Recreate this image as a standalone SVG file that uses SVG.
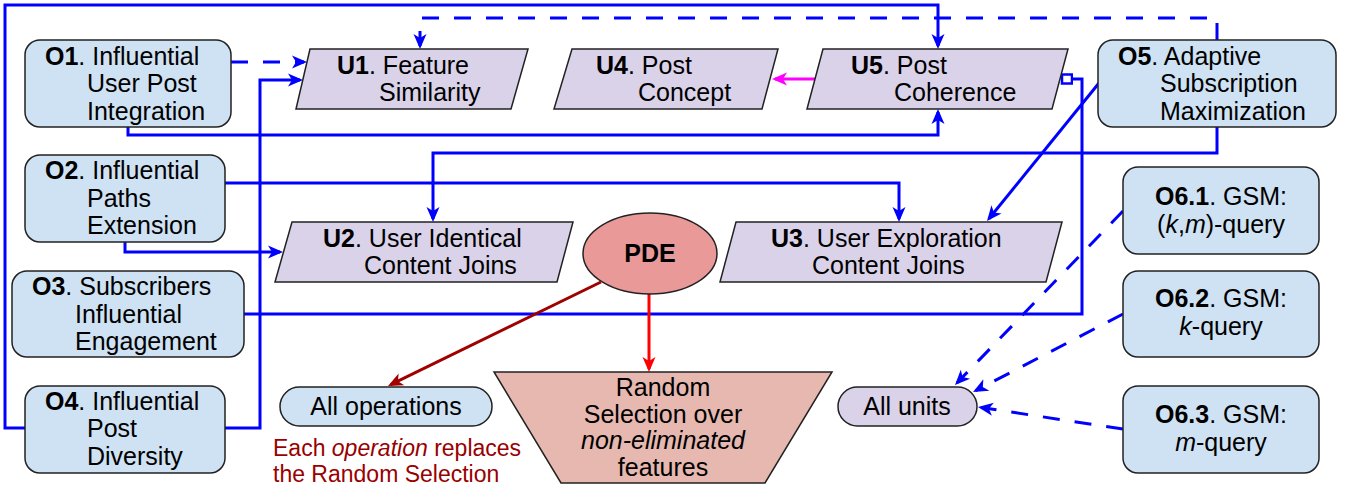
<svg xmlns="http://www.w3.org/2000/svg" width="1355" height="491" viewBox="0 0 1355 491">
<style>
text{font-family:"Liberation Sans",Arial,sans-serif;font-size:25px;fill:#000}
.b{font-weight:bold}
.i{font-style:italic}
.op{fill:#cfe2f3;stroke:#222;stroke-width:1.5}
.un{fill:#d9d2e9;stroke:#222;stroke-width:1.5}
.c{fill:none;stroke:#0000ff;stroke-width:3}
.d{stroke-dasharray:17 15}
.red{fill:#990000;font-size:23px}
</style>
<defs>
<marker id="ab" viewBox="-14 -8 18 16" refX="0" refY="0" markerWidth="18" markerHeight="16" markerUnits="userSpaceOnUse" orient="auto"><path d="M3,0 L-12,-6.5 L-8,0 L-12,6.5 Z" fill="#0000ff"/></marker>
<marker id="am" viewBox="-14 -8 18 16" refX="0" refY="0" markerWidth="18" markerHeight="16" markerUnits="userSpaceOnUse" orient="auto"><path d="M3,0 L-12,-6.5 L-8,0 L-12,6.5 Z" fill="#ff00ff"/></marker>
<marker id="adr" viewBox="-14 -8 18 16" refX="0" refY="0" markerWidth="18" markerHeight="16" markerUnits="userSpaceOnUse" orient="auto"><path d="M3,0 L-12,-6.5 L-8,0 L-12,6.5 Z" fill="#a00000"/></marker>
<marker id="ar" viewBox="-14 -8 18 16" refX="0" refY="0" markerWidth="18" markerHeight="16" markerUnits="userSpaceOnUse" orient="auto"><path d="M3,0 L-12,-6.5 L-8,0 L-12,6.5 Z" fill="#ff0000"/></marker>
<marker id="sq" viewBox="-1 -6 13 12" refX="0" refY="0" markerWidth="13" markerHeight="12" markerUnits="userSpaceOnUse" orient="auto"><rect x="0" y="-4.5" width="10" height="9" fill="#fff" stroke="#0000ff" stroke-width="2.5"/></marker>
</defs>
<g id="connectors">
<path class="c" d="M25,428 H5 V5 H938 V46" marker-end="url(#ab)"/>
<path class="c d" d="M1217,40 V18 H420 V46" marker-end="url(#ab)"/>
<path class="c d" d="M231,62 H304" marker-end="url(#ab)"/>
<path class="c" d="M225,428 H260 V80 H300" marker-end="url(#ab)"/>
<path class="c" d="M128,127 V135 H938 V112" marker-end="url(#ab)"/>
<path class="c" d="M1217,127 V153 H433 V219" marker-end="url(#ab)"/>
<path class="c" d="M225,183 H899 V219" marker-end="url(#ab)"/>
<path class="c" d="M125,242 V252 H280" marker-end="url(#ab)"/>
<path class="c" d="M244,314 H1082 V79 H1072" marker-end="url(#sq)"/>
<path class="c" d="M1099,83 L988.9,218.7" marker-end="url(#ab)"/>
<path fill="none" stroke="#ff00ff" stroke-width="3" d="M815,79 H775" marker-end="url(#am)"/>
<path fill="none" stroke="#a00000" stroke-width="3" d="M601,282 L390.7,384.7" marker-end="url(#adr)"/>
<path fill="none" stroke="#ff0000" stroke-width="3" d="M649,294 V369" marker-end="url(#ar)"/>
<path class="c d" d="M1123,211 L957.1,382.8" marker-end="url(#ab)"/>
<path class="c d" d="M1123,314 L975.7,390.6" marker-end="url(#ab)"/>
<path class="c d" d="M1123,429 L981,407.5" marker-end="url(#ab)"/>
</g>
<g id="O1"><rect class="op" x="25" y="40" width="206" height="87" rx="15"/>
<text x="45" y="65"><tspan class="b">O1</tspan>. Influential</text><text x="87" y="92">User Post</text><text x="87" y="120">Integration</text></g>
<g id="O2"><rect class="op" x="25" y="155" width="200" height="87" rx="15"/>
<text x="45" y="179"><tspan class="b">O2</tspan>. Influential</text><text x="87" y="207">Paths</text><text x="87" y="234">Extension</text></g>
<g id="O3"><rect class="op" x="12" y="271" width="232" height="86" rx="15"/>
<text x="32" y="295"><tspan class="b">O3</tspan>. Subscribers</text><text x="75" y="323">Influential</text><text x="75" y="350">Engagement</text></g>
<g id="O4"><rect class="op" x="25" y="386" width="200" height="87" rx="15"/>
<text x="45" y="410"><tspan class="b">O4</tspan>. Influential</text><text x="87" y="437">Post</text><text x="87" y="465">Diversity</text></g>
<g id="O5"><rect class="op" x="1098" y="40" width="238" height="87" rx="15"/>
<text x="1118" y="65"><tspan class="b">O5</tspan>. Adaptive</text><text x="1160" y="92">Subscription</text><text x="1160" y="120">Maximization</text></g>
<g id="O6_1"><rect class="op" x="1123" y="167" width="196" height="87" rx="15"/>
<text x="1221" y="205" text-anchor="middle"><tspan class="b">O6.1</tspan>. GSM:</text><text x="1221" y="233" text-anchor="middle">(<tspan class="i">k</tspan>,<tspan class="i">m</tspan>)-query</text></g>
<g id="O6_2"><rect class="op" x="1123" y="271" width="196" height="86" rx="15"/>
<text x="1221" y="307" text-anchor="middle"><tspan class="b">O6.2</tspan>. GSM:</text><text x="1221" y="335" text-anchor="middle"><tspan class="i">k</tspan>-query</text></g>
<g id="O6_3"><rect class="op" x="1123" y="386" width="196" height="87" rx="15"/>
<text x="1221" y="423" text-anchor="middle"><tspan class="b">O6.3</tspan>. GSM:</text><text x="1221" y="451" text-anchor="middle"><tspan class="i">m</tspan>-query</text></g>
<g id="U1"><polygon class="un" points="310,49 528,49 511,109 296,109"/>
<text x="337" y="74"><tspan class="b">U1</tspan>. Feature</text><text x="379" y="101">Similarity</text></g>
<g id="U4"><polygon class="un" points="572,49 778,49 762,109 554,109"/>
<text x="596" y="74"><tspan class="b">U4</tspan>. Post</text><text x="638" y="101">Concept</text></g>
<g id="U5"><polygon class="un" points="823,49 1068,49 1052,109 807,109"/>
<text x="851" y="74"><tspan class="b">U5</tspan>. Post</text><text x="894" y="101">Coherence</text></g>
<g id="U2"><polygon class="un" points="292,222 573,222 557,282 275,282"/>
<text x="323" y="247"><tspan class="b">U2</tspan>. User Identical</text><text x="364" y="274">Content Joins</text></g>
<g id="U3"><polygon class="un" points="736,222 1062,222 1046,282 720,282"/>
<text x="771" y="247"><tspan class="b">U3</tspan>. User Exploration</text><text x="812" y="274">Content Joins</text></g>
<g id="PDE"><ellipse cx="650" cy="253.5" rx="67" ry="40.5" fill="#ea9999" stroke="#222" stroke-width="1.5"/>
<text x="650" y="262" text-anchor="middle" class="b">PDE</text></g>
<g id="RandomSelection"><polygon points="494,372 832,372 765,483 561,483" fill="#e6b8af" stroke="#222" stroke-width="1.5"/>
<text x="663" y="396" text-anchor="middle">Random</text><text x="663" y="423" text-anchor="middle">Selection over</text><text x="663" y="449" text-anchor="middle" class="i">non-eliminated</text><text x="663" y="476" text-anchor="middle">features</text></g>
<g id="AllOperations"><rect class="op" x="280" y="387" width="212" height="39" rx="19.5"/>
<text x="386" y="415" text-anchor="middle">All operations</text></g>
<g id="AllUnits"><rect class="un" x="838" y="387" width="139" height="39" rx="19.5"/>
<text x="907" y="415" text-anchor="middle">All units</text></g>
<g id="note"><text class="red" x="273" y="456">Each <tspan class="i">operation</tspan> replaces</text><text class="red" x="273" y="482">the Random Selection</text></g>
</svg>
